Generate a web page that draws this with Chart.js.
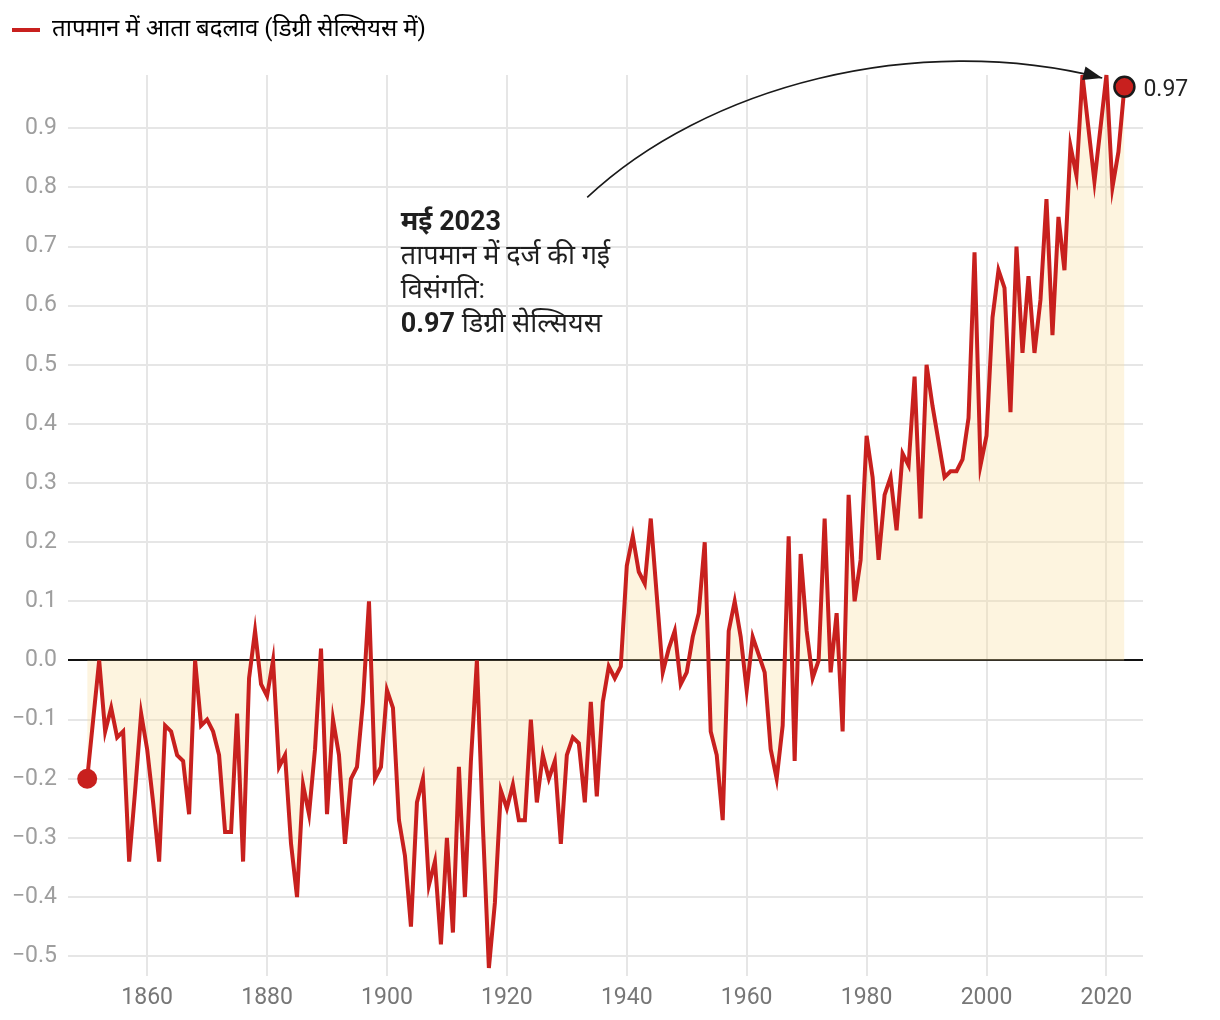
<!DOCTYPE html>
<html>
<head>
<meta charset="utf-8">
<script src="https://cdn.jsdelivr.net/npm/chart.js@4.4.1/dist/chart.umd.min.js"></script>
<style>
  html, body { margin: 0; padding: 0; background: #fff; }
  #wrap { width: 1220px; height: 1020px; }
</style>
</head>
<body>
<div id="wrap"><canvas id="tempChart" width="1220" height="1020"></canvas></div>
<script>
const years = [
    1850, 1851, 1852, 1853, 1854, 1855, 1856, 1857, 1858, 1859,
    1860, 1861, 1862, 1863, 1864, 1865, 1866, 1867, 1868, 1869,
    1870, 1871, 1872, 1873, 1874, 1875, 1876, 1877, 1878, 1879,
    1880, 1881, 1882, 1883, 1884, 1885, 1886, 1887, 1888, 1889,
    1890, 1891, 1892, 1893, 1894, 1895, 1896, 1897, 1898, 1899,
    1900, 1901, 1902, 1903, 1904, 1905, 1906, 1907, 1908, 1909,
    1910, 1911, 1912, 1913, 1914, 1915, 1916, 1917, 1918, 1919,
    1920, 1921, 1922, 1923, 1924, 1925, 1926, 1927, 1928, 1929,
    1930, 1931, 1932, 1933, 1934, 1935, 1936, 1937, 1938, 1939,
    1940, 1941, 1942, 1943, 1944, 1945, 1946, 1947, 1948, 1949,
    1950, 1951, 1952, 1953, 1954, 1955, 1956, 1957, 1958, 1959,
    1960, 1961, 1962, 1963, 1964, 1965, 1966, 1967, 1968, 1969,
    1970, 1971, 1972, 1973, 1974, 1975, 1976, 1977, 1978, 1979,
    1980, 1981, 1982, 1983, 1984, 1985, 1986, 1987, 1988, 1989,
    1990, 1991, 1992, 1993, 1994, 1995, 1996, 1997, 1998, 1999,
    2000, 2001, 2002, 2003, 2004, 2005, 2006, 2007, 2008, 2009,
    2010, 2011, 2012, 2013, 2014, 2015, 2016, 2017, 2018, 2019,
    2020, 2021, 2022, 2023
];

// May anomaly, deg C
const anomalies = [
    -0.20, -0.10, 0.00, -0.12, -0.08, -0.13, -0.12, -0.34, -0.22, -0.09,
    -0.15, -0.24, -0.34, -0.11, -0.12, -0.16, -0.17, -0.26, 0.00, -0.11,
    -0.10, -0.12, -0.16, -0.29, -0.29, -0.09, -0.34, -0.03, 0.05, -0.04,
    -0.06, 0.00, -0.18, -0.16, -0.31, -0.40, -0.21, -0.26, -0.15, 0.02,
    -0.26, -0.10, -0.16, -0.31, -0.20, -0.18, -0.07, 0.10, -0.20, -0.18,
    -0.05, -0.08, -0.27, -0.33, -0.45, -0.24, -0.20, -0.38, -0.34, -0.48,
    -0.30, -0.46, -0.18, -0.40, -0.17, 0.00, -0.28, -0.52, -0.41, -0.22,
    -0.25, -0.21, -0.27, -0.27, -0.10, -0.24, -0.16, -0.20, -0.17, -0.31,
    -0.16, -0.13, -0.14, -0.24, -0.07, -0.23, -0.07, -0.01, -0.03, -0.01,
    0.16, 0.21, 0.15, 0.13, 0.24, 0.11, -0.02, 0.02, 0.05, -0.04,
    -0.02, 0.04, 0.08, 0.20, -0.12, -0.16, -0.27, 0.05, 0.10, 0.04,
    -0.05, 0.04, 0.01, -0.02, -0.15, -0.20, -0.11, 0.21, -0.17, 0.18,
    0.05, -0.03, 0.00, 0.24, -0.02, 0.08, -0.12, 0.28, 0.10, 0.17,
    0.38, 0.31, 0.17, 0.28, 0.31, 0.22, 0.35, 0.33, 0.48, 0.24,
    0.50, 0.43, 0.37, 0.31, 0.32, 0.32, 0.34, 0.41, 0.69, 0.33,
    0.38, 0.58, 0.66, 0.63, 0.42, 0.70, 0.52, 0.65, 0.52, 0.61,
    0.78, 0.55, 0.75, 0.66, 0.87, 0.82, 0.99, 0.90, 0.81, 0.90,
    0.99, 0.80, 0.86, 0.97
];

const xTicks = [1860, 1880, 1900, 1920, 1940, 1960, 1980, 2000, 2020];
const yTicks = [-0.5, -0.4, -0.3, -0.2, -0.1, 0.0, 0.1, 0.2, 0.3, 0.4, 0.5, 0.6, 0.7, 0.8, 0.9];

const legendLabel = 'तापमान में आता बदलाव (डिग्री सेल्सियस में)';
const noteTitle = 'मई 2023';
const noteLines = ['तापमान में दर्ज की गई', 'विसंगति:'];
const noteValue = '0.97';
const noteUnit = ' डिग्री सेल्सियस';

const RED = '#c8201e';
const FONT = "Roboto, 'Noto Sans', sans-serif";
const lastIdx = anomalies.length - 1;

// legend box gets a fixed height so the plot starts where the original does
const legendHeight = {
    id: 'legendHeight',
    beforeInit(chart) {
        const fit = chart.legend.fit;
        chart.legend.fit = function() {
            fit.call(this);
            this.height = 69;
        };
    }
};

const annotations = {
    id: 'annotations',
    afterDatasetsDraw(chart) {
        const ctx = chart.ctx;
        const x = chart.scales.x;
        const y = chart.scales.y;
        const px = (a, b) => [x.getPixelForValue(a), y.getPixelForValue(b)];

        // curved arrow pointing at the record
        const p0 = px(1933.4, 0.783);
        const p1 = px(1953, 0.97);
        const p2 = px(1988, 1.065);
        const p3 = px(2019.3, 0.985);
        ctx.save();
        ctx.strokeStyle = '#1a1a1a';
        ctx.lineWidth = 1.6;
        ctx.beginPath();
        ctx.moveTo(p0[0], p0[1]);
        ctx.bezierCurveTo(p1[0], p1[1], p2[0], p2[1], p3[0], p3[1]);
        ctx.stroke();
        const ang = Math.atan2(p3[1] - p2[1], p3[0] - p2[0]);
        ctx.fillStyle = '#1a1a1a';
        ctx.beginPath();
        ctx.moveTo(p3[0], p3[1]);
        ctx.lineTo(p3[0] - 19 * Math.cos(ang) + 7 * Math.sin(ang), p3[1] - 19 * Math.sin(ang) - 7 * Math.cos(ang));
        ctx.lineTo(p3[0] - 19 * Math.cos(ang) - 7 * Math.sin(ang), p3[1] - 19 * Math.sin(ang) + 7 * Math.cos(ang));
        ctx.closePath();
        ctx.fill();

        // note text
        const tx = x.getPixelForValue(1902.3);
        const ty = y.getPixelForValue(0.74);
        ctx.fillStyle = '#1f1f1f';
        ctx.textBaseline = 'middle';
        ctx.textAlign = 'left';
        ctx.font = 'bold 27px ' + FONT;
        ctx.fillText(noteTitle, tx, ty);
        ctx.font = '27px ' + FONT;
        noteLines.forEach((t, i) => ctx.fillText(t, tx, ty + 34 * (i + 1)));
        ctx.font = 'bold 27px ' + FONT;
        ctx.fillText(noteValue, tx, ty + 34 * 3);
        const w = ctx.measureText(noteValue).width;
        ctx.font = '27px ' + FONT;
        ctx.fillText(noteUnit, tx + w, ty + 34 * 3);

        // value label for the last point
        const last = chart.getDatasetMeta(0).data[lastIdx];
        ctx.font = '23px ' + FONT;
        ctx.fillStyle = '#222';
        ctx.fillText(anomalies[lastIdx].toFixed(2), last.x + 19, last.y + 3);
        ctx.restore();
    }
};

const chart = new Chart(document.getElementById('tempChart'), {
    type: 'line',
    data: {
        datasets: [{
            label: legendLabel,
            data: years.map((yr, i) => ({ x: yr, y: anomalies[i] })),
            borderColor: RED,
            borderWidth: 4,
            backgroundColor: 'rgba(248, 222, 155, 0.32)',
            fill: 'origin',
            tension: 0,
            clip: false,
            pointRadius: (c) => (c.dataIndex === 0 || c.dataIndex === lastIdx) ? 10 : 0,
            pointBackgroundColor: RED,
            pointBorderColor: (c) => c.dataIndex === lastIdx ? '#1a1a1a' : RED,
            pointBorderWidth: (c) => c.dataIndex === lastIdx ? 2.5 : 0
        }]
    },
    options: {
        responsive: false,
        animation: false,
        events: [],
        layout: {
            padding: { left: 0, right: 77, top: 6, bottom: 6 }
        },
        plugins: {
            legend: {
                position: 'top',
                align: 'start',
                labels: {
                    usePointStyle: true,
                    pointStyleWidth: 28,
                    padding: 12,
                    color: '#333',
                    font: { family: FONT, size: 24 },
                    generateLabels: (chart) => [{
                        text: chart.data.datasets[0].label,
                        pointStyle: 'line',
                        strokeStyle: RED,
                        fillStyle: RED,
                        lineWidth: 4,
                        datasetIndex: 0,
                        hidden: false
                    }]
                }
            },
            tooltip: { enabled: false }
        },
        scales: {
            x: {
                type: 'linear',
                min: 1846.8,
                max: 2026.1,
                afterBuildTicks: (scale) => { scale.ticks = xTicks.map(v => ({ value: v })); },
                afterFit: (scale) => { scale.height = 46; },
                border: { display: false },
                grid: {
                    color: '#e6e6e6',
                    lineWidth: 2,
                    drawTicks: true,
                    tickLength: 8
                },
                ticks: {
                    autoSkip: false,
                    maxRotation: 0,
                    padding: 8,
                    color: '#777',
                    font: { family: FONT, size: 23 },
                    callback: (v) => String(v)
                }
            },
            y: {
                min: -0.52,
                max: 0.99,
                afterBuildTicks: (scale) => { scale.ticks = yTicks.map(v => ({ value: v })); },
                afterFit: (scale) => { scale.width = 68; },
                border: { display: false },
                grid: {
                    color: (c) => c.tick && Math.abs(c.tick.value) < 1e-9 ? '#111' : '#e6e6e6',
                    lineWidth: 2,
                    drawTicks: false
                },
                ticks: {
                    padding: 11,
                    color: '#9e9e9e',
                    font: { family: FONT, size: 23 },
                    callback: (v) => (v < 0 ? '\u2212' : '') + Math.abs(v).toFixed(1)
                }
            }
        }
    },
    plugins: [legendHeight, annotations]
});
</script>
</body>
</html>
